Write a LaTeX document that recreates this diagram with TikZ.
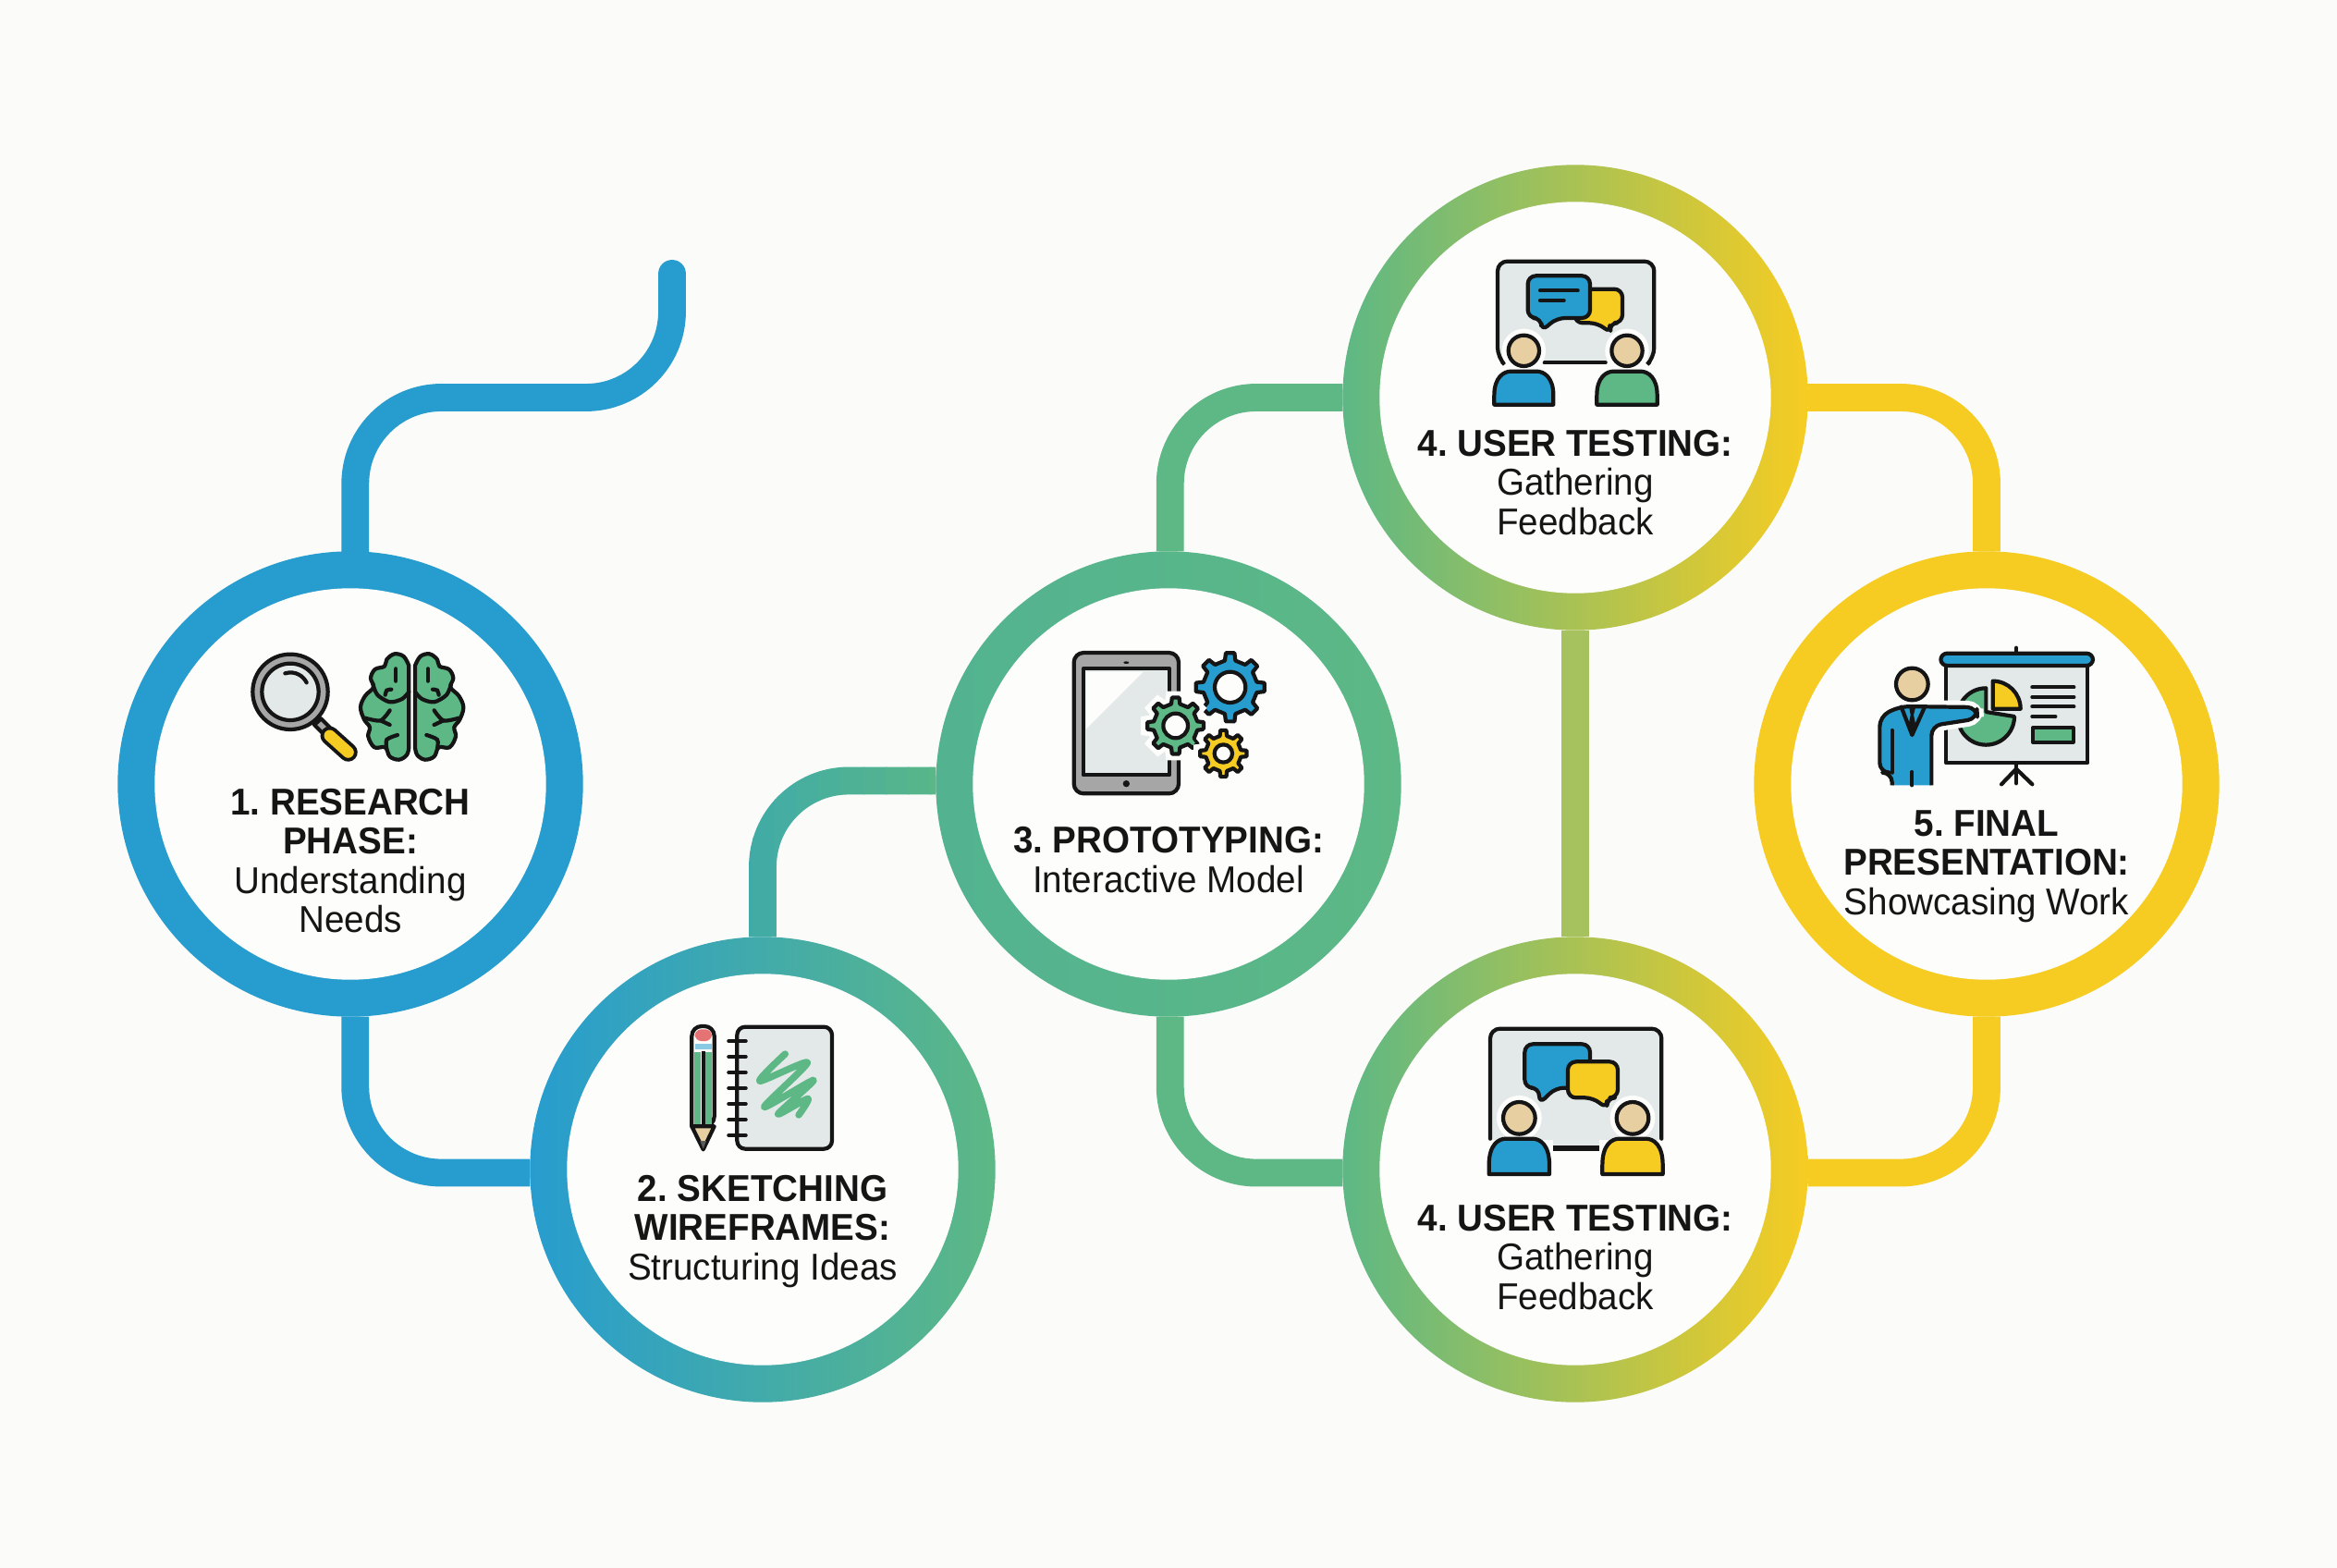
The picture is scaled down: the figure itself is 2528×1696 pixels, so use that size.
\documentclass[tikz,border=0pt]{standalone}
\usepackage{fontspec}
\setmainfont{Liberation Sans}[FakeStretch=0.955]
\usetikzlibrary{calc,backgrounds}
\definecolor{paper}{HTML}{FBFBFA}
\definecolor{hub}{HTML}{FDFDFC}
\definecolor{ink}{HTML}{151515}
\definecolor{sky}{HTML}{279DCF}
\definecolor{teal}{HTML}{3FAAA8}
\definecolor{sage}{HTML}{5DB885}
\definecolor{lime}{HTML}{A6C25F}
\definecolor{sun}{HTML}{F6CC22}
\definecolor{skin}{HTML}{E8CFA2}
\definecolor{steel}{HTML}{A6A6A6}
\definecolor{panel}{HTML}{E3E9E8}
\definecolor{eraser}{HTML}{E57373}
% cog: x, y, root radius, tip radius, hole radius, fill
\newcommand{\cog}[6]{\begin{scope}[shift={(#1,#2)}]
\pgfmathsetmacro\cogstep{45}
\draw[ico,halo,fill=#6] ({-.25*\cogstep}:#3) \foreach \k in {0,...,7} {-- ({(\k-.25)*\cogstep}:#3) -- ({(\k-.16)*\cogstep}:#4) -- ({(\k+.16)*\cogstep}:#4) -- ({(\k+.25)*\cogstep}:#3)} -- cycle;
\draw[ico,fill=hub] (0,0) circle (#5);
\end{scope}}
% bust: centre x, head y, head radius, half width, shoulder y, bottom y, fill
\newcommand{\bust}[7]{\draw[ico,halo,fill=skin] (#1,#2) circle (#3);
\draw[ico,fill=#7] (#1-#4,#6) -- (#1-#4,#6-30) .. controls (#1-#4,#5+20) and (#1-#4+30,#5) .. (#1-#4+55,#5) -- (#1+#4-55,#5) .. controls (#1+#4-30,#5) and (#1+#4,#5+20) .. (#1+#4,#6-30) -- (#1+#4,#6) -- cycle;}
\begin{document}
\begin{tikzpicture}[x=0.02cm,y=-0.02cm,
  ring/.style={circle,minimum size=286.5pt,inner sep=0pt,outer sep=0pt},
  hole/.style={circle,minimum size=241pt,inner sep=0pt,outer sep=0pt,fill=hub},
  track/.style={line width=17pt,rounded corners=53pt},
  lbl/.style={align=center,text=ink,inner sep=0pt,font=\fontsize{23}{24.2}\selectfont\frenchspacing},
  ico/.style={draw=ink,line width=2.4pt,line join=round},
  halo/.style={preaction={draw=hub,line width=8pt}},
  thin line/.style={draw=ink,line width=2.4pt,line cap=round}]
\useasboundingbox (0,0) rectangle (2528,1696);
% hubs
\node[ring,fill=sky] (research) at (379,848) {};
\node[ring,left color=sky,middle color=teal,right color=sage] (sketch) at (825,1265) {};
\node[ring,left color=teal!35!sage,right color=sage] (proto) at (1264,848) {};
\node[ring,left color=sage,middle color=lime,right color=sun] (usertop) at (1704,430) {};
\node[ring,left color=sage,middle color=lime,right color=sun] (userlow) at (1704,1265) {};
\node[ring,fill=sun] (final) at (2149,848) {};
\foreach \n in {research,sketch,proto,usertop,userlow,final} {\node[hole] (\n hole) at (\n) {};}
\coordinate (trackstart) at (727,296);
\coordinate (trackbend) at (384.29,430);
% connectors
\begin{scope}[on background layer]
\fill[paper] (0,0) rectangle (2528,1696);
\draw[track,draw=sky,line cap=round] (trackstart) |- (trackbend) -- ([xshift=3pt]research.north);
\draw[track,draw=sky] ([xshift=3pt]research.south) |- ([yshift=-2pt]sketch.west);
\foreach \p in {0,10,...,100} {
  \begin{scope}
  \clip (790+2.4*\p,800) rectangle ++(25,240);
  \draw[track,draw=sage!\p!teal] (sketch.north) |- ([yshift=2pt]proto.west);
  \end{scope}}
\draw[track,draw=sage] ([xshift=1pt]proto.north) |- (usertop.west);
\draw[track,draw=sage] ([xshift=1pt]proto.south) |- ([yshift=-2pt]userlow.west);
\draw[track,draw=lime] (usertop.south) -- (userlow.north);
\draw[track,draw=sun] (usertop.east) -| (final.north);
\draw[track,draw=sun] ([yshift=-2pt]userlow.east) -| (final.south);
\end{scope}
% labels
\node[lbl] (researchtext) at (379,931) {\textbf{1. RESEARCH}\\\textbf{PHASE:}\\Understanding\\Needs};
\node[lbl] (sketchtext) at (825,1332) {\textbf{2. SKETCHING}\\\textbf{WIREFRAMES:}\\Structuring Ideas};
\node[lbl] (prototext) at (1264,930) {\textbf{3. PROTOTYPING:}\\Interactive Model};
\node[lbl] (usertoptext) at (1704,522) {\textbf{4. USER TESTING:}\\Gathering\\Feedback};
\node[lbl] (userlowtext) at (1704,1360) {\textbf{4. USER TESTING:}\\Gathering\\Feedback};
\node[lbl] (finaltext) at (2149,937) {\textbf{5. FINAL}\\\textbf{PRESENTATION:}\\Showcasing Work};
% magnifier and brain
\begin{scope}[shift={(240,680)},scale=1/3]
\draw[ico,fill=steel] (300,312) -- (322,292) -- (352,322) -- (330,342) -- cycle;
\draw[ink,line width=11.5pt,line cap=round] (350,347) -- (410,401);
\draw[sun,line width=7pt,line cap=round] (350,347) -- (410,401);
\draw[ico,fill=steel] (222,205) circle (122);
\draw[ico,fill=panel] (222,205) circle (92);
\draw[thin line] (205,145) .. controls (240,135) and (265,155) .. (275,175);
\foreach \s in {1,-1} {\begin{scope}[shift={(617,0)},xscale=\s]
  \draw[ico,fill=sage] plot[smooth,tension=.6] coordinates {(-10,120) (-27,90) (-57,82) (-82,100) (-89,122) (-120,132) (-134,160) (-125,190) (-152,218) (-167,255) (-155,295) (-137,320) (-142,350) (-122,385) (-87,385) (-72,415) (-42,425) (-17,410) (-10,385)} -- cycle;
  \draw[thin line] (-52,130) -- (-52,170);
  \draw[thin line] plot[smooth] coordinates {(-127,180) (-112,215) (-72,238) (-32,228) (-10,205)};
  \draw[thin line] plot[smooth] coordinates {(-87,215) (-82,200) (-67,197)};
  \draw[thin line] plot[smooth] coordinates {(-152,290) (-102,298) (-72,265)};
  \draw[thin line] (-102,298) -- (-72,312);
  \draw[thin line] plot[smooth] coordinates {(-47,345) (-82,360) (-82,390)};
\end{scope}}
\end{scope}
% pencil and notebook
\begin{scope}[shift={(720,1090)},scale=1/3]
\draw[ico,fill=hub,rounded corners=6pt] (85,385) -- (85,60) -- (158,60) -- (158,385) [sharp corners] -- cycle;
\fill[eraser,rounded corners=4pt] (95,108) -- (95,70) -- (150,70) -- (150,108) -- cycle;
\fill[sky!55] (95,116) rectangle (150,134);
\fill[sage] (93,145) rectangle (115,380);
\fill[sage] (128,145) rectangle (150,380);
\draw[ico] (122,140) -- (122,385);
\draw[ico,fill=skin] (85,385) -- (158,385) -- (122,460) -- cycle;
\fill[ink!70] (112,432) -- (132,432) -- (122,458) -- cycle;
\draw[ico,fill=panel,rounded corners=5pt] (232,62) rectangle (540,458);
\foreach \y in {108,159,210,261,312,363,414} {\draw[thin line] (205,\y) -- (260,\y);}
\draw[sage,line width=4.2pt,line cap=round,line join=round] plot[smooth,tension=.45] coordinates {(388,150) (305,238) (460,178) (320,322) (480,235) (365,345) (462,295) (432,348)};
\end{scope}
% tablet and cogs
\begin{scope}[shift={(1130,690)},scale=1/3]
\draw[ico,fill=steel,rounded corners=6pt] (95,48) rectangle (435,505);
\draw[ico,fill=panel] (125,100) rectangle (405,445);
\fill[hub] (135,110) -- (320,110) -- (135,295) -- cycle;
\fill[ink] (265,80) ellipse (9 and 4);
\fill[ink] (265,473) circle (11);
\cog{602}{160}{88}{112}{50}{sky}
\cog{425}{285}{72}{92}{40}{sage}
\cog{580}{375}{58}{76}{29}{sun}
\end{scope}
% testing, upper board
\begin{scope}[shift={(1590,270)},scale=1/3]
\fill[panel,rounded corners=6pt] (90,40) rectangle (596,365);
\draw[thin line,rounded corners=6pt] (105,365) -- (90,350) -- (90,38) -- (598,38) -- (598,350) -- (583,365);
\draw[thin line] (242,367) -- (440,367);
\draw[ico,fill=sun,rounded corners=5pt] (340,128) -- (495,128) -- (495,238) -- (452,238) -- (458,272) -- (415,238) -- (340,238) -- cycle;
\draw[ico,fill=sky,rounded corners=5pt] (188,85) -- (390,85) -- (390,222) -- (282,222) -- (232,265) -- (232,222) -- (188,222) -- cycle;
\draw[thin line] (228,133) -- (350,133);
\draw[thin line] (228,165) -- (305,165);
\bust{175}{328}{50}{96}{395}{503}{sky}
\bust{510}{328}{50}{98}{395}{503}{sage}
\end{scope}
% testing, lower board
\begin{scope}[shift={(1590,1100)},scale=1/3]
\fill[panel,rounded corners=6pt] (66,40) rectangle (622,418);
\fill[hub] (66,398) rectangle (270,420);
\fill[hub] (420,398) rectangle (622,420);
\draw[thin line,rounded corners=6pt] (66,395) -- (66,38) -- (622,38) -- (622,395);
\draw[ink,line width=3.4pt] (270,425) -- (420,425);
\draw[ico,fill=sky,rounded corners=5pt] (178,88) -- (390,88) -- (390,230) -- (278,230) -- (225,282) -- (225,230) -- (178,230) -- cycle;
\draw[ico,fill=sun,rounded corners=5pt] (318,145) -- (480,145) -- (480,262) -- (445,262) -- (445,298) -- (400,262) -- (318,262) -- cycle;
\bust{160}{328}{52}{98}{395}{510}{sky}
\bust{528}{328}{52}{98}{395}{510}{sun}
\end{scope}
% presenter and screen
\begin{scope}[shift={(2010,690)},scale=1/3]
\draw[thin line] (513,32) -- (513,50);
\draw[ico,fill=panel] (285,90) rectangle (745,405);
\draw[ico,fill=sky,rounded corners=4pt] (268,50) rectangle (762,90);
\draw[thin line] (513,405) -- (513,472);
\draw[thin line] (513,425) -- (465,475);
\draw[thin line] (513,425) -- (565,475);
\draw[ico,fill=sage] (415,163) arc (270:0:92) -- (415,240) -- cycle;
\draw[ico,fill=sun] (437,140) arc (-90:0:90) -- (437,230) -- cycle;
\foreach \y/\e in {160/700,192/700,223/700,255/640} {\draw[thin line] (565,\y) -- (\e,\y);}
\draw[ico,fill=sage] (567,292) rectangle (698,338);
\draw[ico,halo,fill=sky,rounded corners=6pt] (110,478) -- (110,437) -- (70,437) -- (70,255) -- (135,222) -- (385,225) -- (387,262) -- (238,285) -- (238,478);
\draw[thin line] (110,300) -- (110,437);
\draw[thin line] (175,435) -- (175,478);
\draw[thin line,line join=round] (140,224) -- (175,315) -- (215,226);
\fill[ink] (165,222) -- (187,222) -- (180,250) -- (188,290) -- (175,315) -- (162,290) -- (170,250) -- cycle;
\draw[ico,fill=skin] (175,150) circle (52);
\end{scope}
\end{tikzpicture}
\end{document}
